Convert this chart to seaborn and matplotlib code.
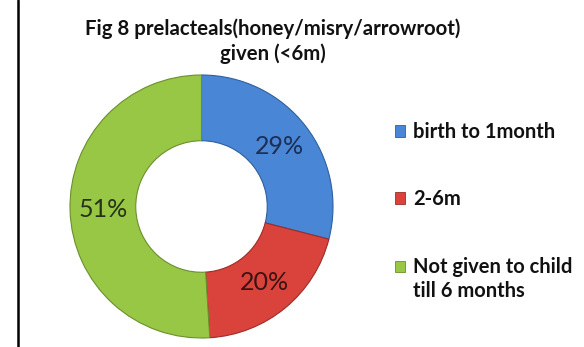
import matplotlib
matplotlib.use("Agg")
import matplotlib.pyplot as plt
import matplotlib.patches as mpatches
from matplotlib.legend_handler import HandlerPatch
import seaborn as sns

# Share of children given prelacteals, by age
categories = ["birth to 1month", "2-6m", "Not given to child\ntill 6 months"]
shares = [29, 20, 51]
pct_labels = ["29%", "20%", "51%"]
title_text = "Fig 8 prelacteals(honey/misry/arrowroot)\ngiven (<6m)"

sns.set_theme(style="white")
plt.rcParams["font.family"] = ["Lato", "DejaVu Sans"]

slice_colors = ["#4a86d6", "#d9433b", "#98c746"]
edge_colors = ["#2f5f9e", "#9e2c27", "#6b8f2c"]
label_colors = ["#1c2f55", "#3a1412", "#26331a"]

fig = plt.figure(figsize=(5.84, 3.47), dpi=100)
fig.patch.set_facecolor("white")

# donut axes: square region around the ring
ax = fig.add_axes([70 / 584, 9 / 347, 263 / 584, 263 / 347])
wedges, texts, autotexts = ax.pie(
    shares,
    colors=slice_colors,
    startangle=90,
    counterclock=False,
    radius=1.0,
    autopct="%1.0f%%",
    pctdistance=0.75,
    wedgeprops=dict(width=0.5, linewidth=0.8),
    textprops=dict(fontsize=18),
)
for w, ec in zip(wedges, edge_colors):
    w.set_edgecolor(ec)
for t, c, s in zip(autotexts, label_colors, pct_labels):
    t.set_text(s)
    t.set_color(c)
ax.set_xlim(-1.0, 1.0)
ax.set_ylim(-1.0, 1.0)
ax.set_aspect("equal")
ax.axis("off")

fig.text(273 / 584, 1 - 41 / 347, title_text, ha="center", va="center",
         fontsize=14.7, fontweight="bold", color="#111111", linespacing=1.28)


def top_line_square(legend, orig_handle, xdescent, ydescent, width, height, fontsize):
    # keep the swatch level with the first line of a two-line label
    shift = 0.67 * fontsize
    return mpatches.Rectangle((-xdescent, -ydescent + shift), width, height)


handles = [mpatches.Patch(facecolor=c, edgecolor=e, linewidth=0.6)
           for c, e in zip(slice_colors, edge_colors)]
leg = fig.legend(handles, categories, loc="upper left",
                 bbox_to_anchor=(395 / 584, 1 - 122 / 347),
                 frameon=False, fontsize=14.5, handlelength=0.5,
                 handleheight=0.5, handletextpad=0.4, labelspacing=2.35,
                 borderpad=0, borderaxespad=0,
                 handler_map={handles[2]: HandlerPatch(patch_func=top_line_square)})
for t in leg.get_texts():
    t.set_fontweight("bold")
    t.set_color("#111111")
    t.set_linespacing(1.3)

# frame line down the left side
fig.add_artist(plt.Line2D([18 / 584, 18 / 584], [0, 1], color="black",
                          linewidth=1.8, transform=fig.transFigure))

fig.savefig("out.png", dpi=100)
